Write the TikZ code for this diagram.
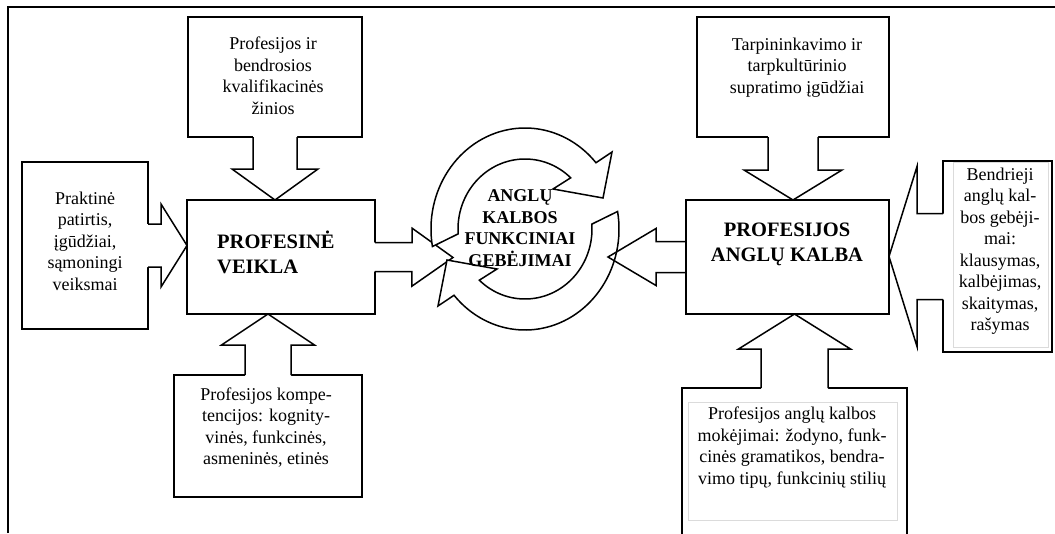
\documentclass[tikz,border=0pt]{standalone}
\usepackage{fontspec}
\setmainfont{Liberation Serif}
\usetikzlibrary{calc}

% Block arrow from #2 to #3: stem half-width #4, head half-width #5, head length #6; #1 = fill
\newcommand\blockarrow[6][white]{%
  \path[fill=#1] let \p1=(#2), \p2=(#3), \n1={veclen(\x2-\x1,\y2-\y1)}, \n2={atan2(\y2-\y1,\x2-\x1)} in
    [shift={(\p1)}, rotate=\n2]
    (-2,-#4) -- ({\n1-#6},-#4) -- ({\n1-#6},-#5) -- (\n1,0) -- ({\n1-#6},#5) -- ({\n1-#6},#4) -- (-2,#4) -- cycle;
  \draw[outl] let \p1=(#2), \p2=(#3), \n1={veclen(\x2-\x1,\y2-\y1)}, \n2={atan2(\y2-\y1,\x2-\x1)} in
    [shift={(\p1)}, rotate=\n2]
    (0,-#4) -- ({\n1-#6},-#4) -- ({\n1-#6},-#5) -- (\n1,0) -- ({\n1-#6},#5) -- ({\n1-#6},#4) -- (0,#4);%
}

% One half of the cycle symbol, relative to its centre
\newcommand\ringhalf{%
  \path[ring] (170:94 and 101) arc[start angle=170, end angle=319, x radius=94, y radius=101]
    -- (87,-77) -- (78,-31) -- (28,-40)
    -- (313:67 and 70) arc[start angle=313, end angle=176, x radius=67, y radius=70] -- cycle;%
}

\begin{document}
\begin{tikzpicture}[x=1pt, y=-1pt,
  outl/.style={line width=1.5pt, line join=miter},
  box/.style={draw, outl, rectangle, inner sep=0pt, outer sep=0pt, anchor=north west},
  txt/.style={align=center, font=\fontsize{18}{21.5}\selectfont, inner sep=0pt},
  head/.style={align=center, font=\fontsize{20.5}{25}\selectfont\bfseries, inner sep=0pt},
  ctr/.style={align=center, font=\fontsize{18}{21.5}\selectfont\bfseries, inner sep=0pt},
  ring/.style={draw, outl, fill=white},
  pane/.style={draw=black!14, line width=1pt}]

\clip (0,0) rectangle (1055,533);
\fill[white] (0,0) rectangle (1055,533);

% outer frame
\draw[line width=2pt] (8,533) -- (8,7) -- (1055,7);

% callout boxes and the two main boxes
\node[box, minimum width=174pt, minimum height=120pt] (tl)  at (188,17)  {};
\node[box, minimum width=126pt, minimum height=167pt] (lf)  at (22,162)  {};
\node[box, minimum width=188pt, minimum height=122pt] (bl)  at (174,375) {};
\node[box, minimum width=188pt, minimum height=114pt] (pv)  at (187,200) {};
\node[box, minimum width=192pt, minimum height=120pt] (tr)  at (697,17)  {};
\node[box, minimum width=203pt, minimum height=114pt] (pak) at (686,200) {};
\node[box, minimum width=109pt, minimum height=191pt] (rt)  at (943,161) {};
\node[box, minimum width=225pt, minimum height=170pt] (br)  at (682,388) {};

% inner text frames
\draw[pane] (953,162) rectangle (1048,347);
\draw[pane] (688,402) rectangle (897,520);

% free ends of the arrows that point into the cycle
\coordinate (cl) at (453,257.5);
\coordinate (cr) at (608,257);

% callout arrows
\blockarrow{tl.south}{tl.south |- pv.north}{22}{43}{31}
\blockarrow{lf.east}{lf.east -| pv.west}{21.5}{41.5}{26}
\blockarrow{bl.north}{bl.north |- pv.south}{23}{46.5}{31}
\blockarrow{pv.east}{cl}{14.5}{29}{41}
\blockarrow{tr.south}{tr.south |- pak.north}{25}{49}{30}
\blockarrow{rt.west}{rt.west -| pak.east}{43}{90}{28}
\blockarrow{br.north}{br.north |- pak.south}{33.5}{56}{35}

% cycle symbol
\begin{scope}[shift={(525,229)}]
  \ringhalf
\end{scope}
\begin{scope}[shift={(525,229)}, rotate=180]
  \ringhalf
\end{scope}

\blockarrow[none]{pak.west}{cr}{15.5}{28.5}{48}

% texts
\node[ctr] (mid) at (520,228) {ANGLŲ\\KALBOS\\FUNKCINIAI\\GEBĖJIMAI};
\node[head, align=left, anchor=west] (pvt) at (217,252.5) {PROFESINĖ\\VEIKLA};
\node[head] (pakt) at (787,244.5) {PROFESIJOS\\ANGLŲ KALBA};

\node[txt] (tlt) at (273,75.5) {Profesijos ir\\bendrosios\\kvalifikacinės\\žinios};
\node[txt] (lft) at (85,241) {Praktinė\\patirtis,\\įgūdžiai,\\sąmoningi\\veiksmai};
\node[txt] (blt) at (266,427.5) {Profesijos kompe-\\tencijos: kognity-\\vinės, funkcinės,\\asmeninės, etinės};
\node[txt] (trt) at (797,67.5) {Tarpininkavimo ir\\tarpkultūrinio\\supratimo įgūdžiai};
\node[txt] (rtt) at (1000,251) {Bendrieji\\anglų kal-\\bos gebėji-\\mai:\\klausymas,\\kalbėjimas,\\skaitymas,\\rašymas};
\node[txt] (brt) at (792,447.5) {Profesijos anglų kalbos\\mokėjimai: žodyno, funk-\\cinės gramatikos, bendra-\\vimo tipų, funkcinių stilių};

\end{tikzpicture}
\end{document}
